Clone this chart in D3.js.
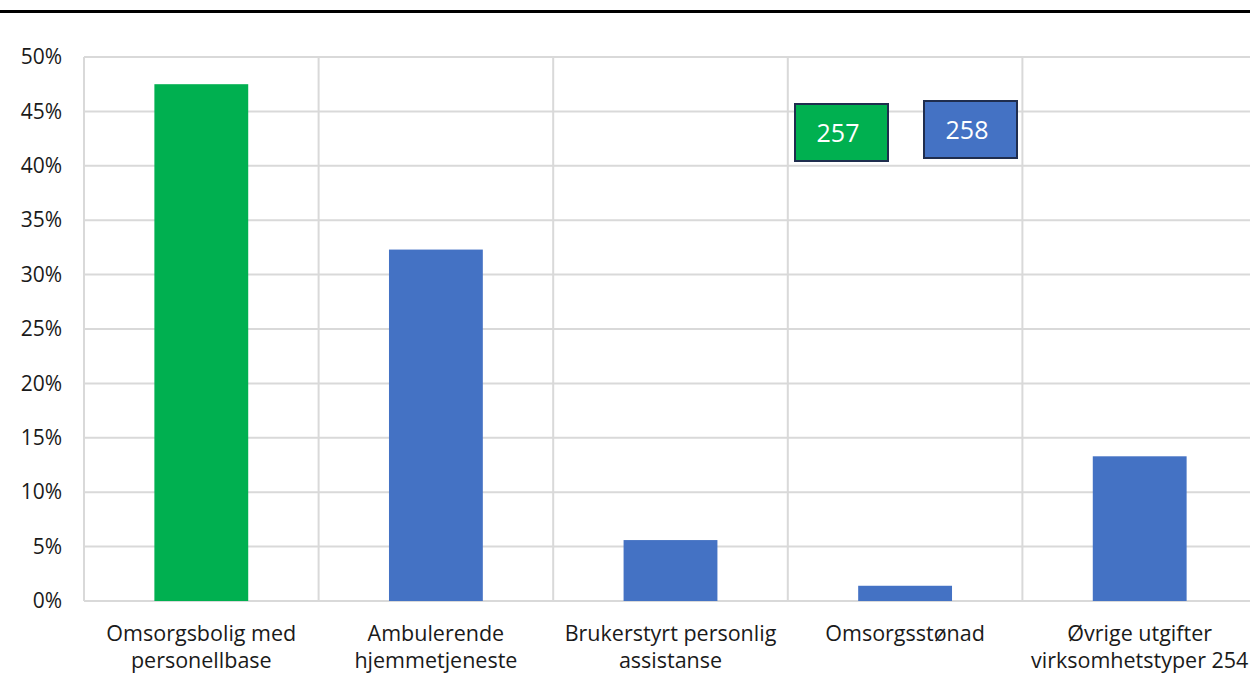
<!DOCTYPE html>
<html>
<head>
<meta charset="utf-8">
<script src="https://cdn.jsdelivr.net/npm/d3@7"></script>
<style>
  html, body { margin: 0; padding: 0; background: #fff; }
  svg { display: block; font-family: "Open Sans", sans-serif; }
</style>
</head>
<body>
<svg id="chart" width="1250" height="675"></svg>
<script>
// Category labels (each entry split into lines)
const categories = [
  ["Omsorgsbolig med", "personellbase"],
  ["Ambulerende", "hjemmetjeneste"],
  ["Brukerstyrt personlig", "assistanse"],
  ["Omsorgsstønad"],
  ["Øvrige utgifter", "virksomhetstyper 254"]
];
// Share of expenses per category (%)
const shares = [47.5, 32.3, 5.6, 1.4, 13.3];
// Function group each category belongs to
const groups = ["257", "258", "258", "258", "258"];
const yTicks = [0, 5, 10, 15, 20, 25, 30, 35, 40, 45, 50];
const legendItems = ["257", "258"];

const colors = { "257": "#00B050", "258": "#4472C4" };

const svg = d3.select("#chart");
const plotLeft = 84, plotRight = 1257, plotTop = 57, plotBottom = 601;

const x = d3.scaleBand()
  .domain(d3.range(categories.length))
  .range([plotLeft, plotRight])
  .paddingInner(0).paddingOuter(0);

const y = d3.scaleLinear().domain([0, 50]).range([plotBottom, plotTop]);

// Rule beneath the heading
svg.append("rect").attr("x", 0).attr("y", 10).attr("width", 1250).attr("height", 3).attr("fill", "#000");

// Horizontal gridlines
svg.append("g")
  .selectAll("line")
  .data(yTicks)
  .join("line")
  .attr("x1", plotLeft).attr("x2", plotRight)
  .attr("y1", d => y(d)).attr("y2", d => y(d))
  .attr("stroke", "#d9d9d9").attr("stroke-width", 2);

// Vertical gridlines at category boundaries
const bounds = d3.range(categories.length + 1).map(i => i < categories.length ? x(i) : plotRight);
svg.append("g")
  .selectAll("line")
  .data(bounds)
  .join("line")
  .attr("x1", d => d).attr("x2", d => d)
  .attr("y1", plotTop).attr("y2", plotBottom)
  .attr("stroke", "#d9d9d9").attr("stroke-width", 2);

// Y axis tick labels
const yAxis = d3.axisLeft(y).tickValues(yTicks).tickFormat(d => d + "%").tickSize(0).tickPadding(22);
const gy = svg.append("g").attr("transform", `translate(${plotLeft},0)`).call(yAxis);
gy.select(".domain").remove();
gy.selectAll("text")
  .attr("font-family", "Open Sans, sans-serif")
  .attr("font-size", 21).attr("fill", "#1a1a1a");

// Bars
const barW = x.bandwidth() * 0.4;
svg.append("g")
  .selectAll("rect")
  .data(shares)
  .join("rect")
  .attr("x", (d, i) => x(i) + (x.bandwidth() - barW) / 2)
  .attr("y", d => y(d))
  .attr("width", barW)
  .attr("height", d => y(0) - y(d))
  .attr("fill", (d, i) => colors[groups[i]]);

// Category labels
const catG = svg.append("g");
categories.forEach((lines, i) => {
  const cx = x(i) + x.bandwidth() / 2;
  const t = catG.append("text")
    .attr("x", cx)
    .attr("y", 641)
    .attr("text-anchor", "middle")
    .attr("font-size", 21.5).attr("fill", "#1a1a1a");
  lines.forEach((ln, j) => {
    t.append("tspan").attr("x", cx).attr("dy", j === 0 ? 0 : 27).text(ln);
  });
});

// Legend boxes
const legendPos = [{ x: 795, y: 104 }, { x: 924, y: 101 }];
const lg = svg.append("g");
legendItems.forEach((key, i) => {
  const p = legendPos[i];
  lg.append("rect")
    .attr("x", p.x).attr("y", p.y).attr("width", 93).attr("height", 57)
    .attr("fill", colors[key]).attr("stroke", "#1f2d4e").attr("stroke-width", 2);
  lg.append("text")
    .attr("x", p.x + 43).attr("y", p.y + 38)
    .attr("text-anchor", "middle")
    .attr("font-size", 25).attr("fill", "#fff")
    .text(key);
});
</script>
</body>
</html>
